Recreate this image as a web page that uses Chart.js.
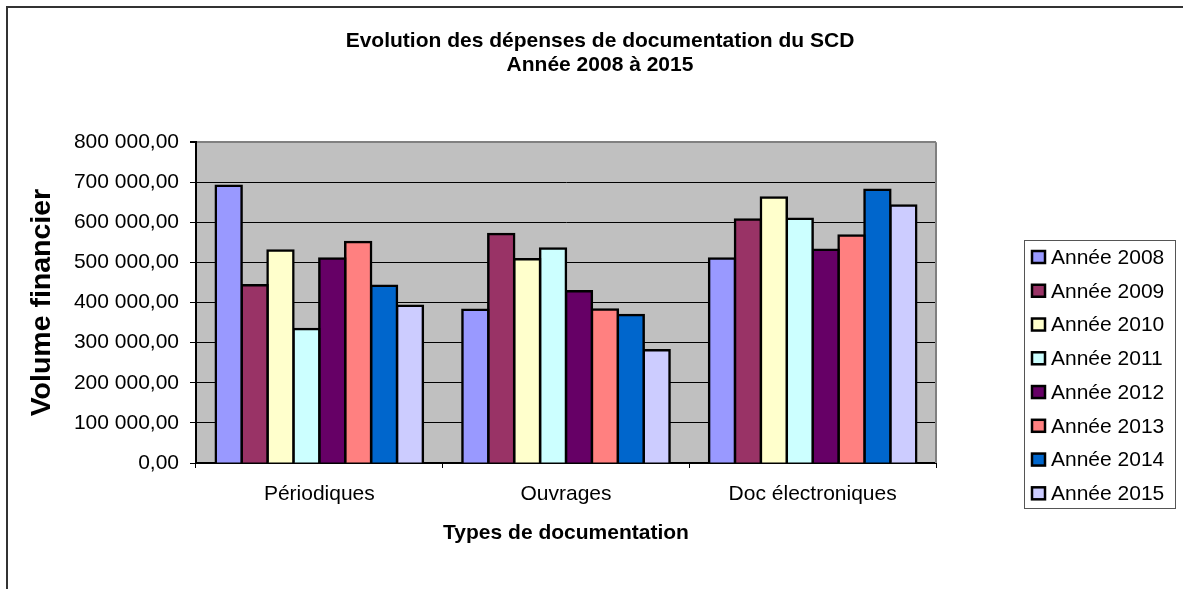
<!DOCTYPE html>
<html>
<head>
<meta charset="utf-8">
<script src="https://cdn.jsdelivr.net/npm/chart.js@4"></script>
<style>
  body { margin: 0; background: #fff; }
  canvas { display: block; }
</style>
</head>
<body>
<canvas id="chart" width="1183" height="589"></canvas>
<script>
// données
const categories = ["Périodiques", "Ouvrages", "Doc électroniques"];
const years = ["Année 2008", "Année 2009", "Année 2010", "Année 2011", "Année 2012", "Année 2013", "Année 2014", "Année 2015"];
const annee2008 = [691000, 382000, 510000];
const annee2009 = [443000, 571000, 607000];
const annee2010 = [530000, 508000, 662000];
const annee2011 = [334000, 535000, 609000];
const annee2012 = [510000, 428000, 532000];
const annee2013 = [551000, 383000, 567000];
const annee2014 = [442000, 369000, 681000];
const annee2015 = [392000, 281000, 642000];
const yMax = 800000;
const yStep = 100000;

const series = [annee2008, annee2009, annee2010, annee2011, annee2012, annee2013, annee2014, annee2015];
const colors = ["#9999FF", "#993366", "#FFFFCC", "#CCFFFF", "#660066", "#FF8080", "#0066CC", "#CCCCFF"];
const FONT = "'Liberation Sans', Arial, sans-serif";

function fmt(v) {
  return String(Math.round(v)).replace(/\B(?=(\d{3})+(?!\d))/g, " ") + ",00";
}

// fond, cadre, zone de traçage
const frame = {
  id: "frame",
  beforeDraw(chart) {
    const {ctx, chartArea: a} = chart;
    ctx.save();
    ctx.fillStyle = "#fff";
    ctx.fillRect(0, 0, chart.width, chart.height);
    ctx.strokeStyle = "#333";
    ctx.lineWidth = 2;
    ctx.strokeRect(7, 7, 2000, 2000);
    ctx.fillStyle = "#C0C0C0";
    ctx.fillRect(a.left, a.top, a.right - a.left, a.bottom - a.top);
    ctx.restore();
  },
  afterDraw(chart) {
    const {ctx, chartArea: a} = chart;
    ctx.save();
    ctx.strokeStyle = "#808080";
    ctx.lineWidth = 2;
    ctx.beginPath();
    ctx.moveTo(a.right, a.top);
    ctx.lineTo(a.right, a.bottom);
    ctx.stroke();
    ctx.restore();
  }
};

// légende encadrée à droite
const boxLegend = {
  id: "boxLegend",
  afterDraw(chart) {
    const ctx = chart.ctx;
    const x0 = 1024, y0 = 240, w = 151, h = 268;
    const first = 257, step = 33.76;
    ctx.save();
    ctx.strokeStyle = "#555";
    ctx.lineWidth = 1;
    ctx.strokeRect(x0 + 0.5, y0 + 0.5, w, h);
    ctx.font = "21px " + FONT;
    ctx.textBaseline = "middle";
    ctx.textAlign = "left";
    chart.data.datasets.forEach((ds, i) => {
      const cy = first + i * step;
      ctx.fillStyle = ds.backgroundColor;
      ctx.fillRect(1032, cy - 6, 13, 12);
      ctx.strokeStyle = "#000";
      ctx.lineWidth = 2.5;
      ctx.strokeRect(1032, cy - 6, 13, 12);
      ctx.fillStyle = "#000";
      ctx.fillText(ds.label, 1051, cy + 1);
    });
    ctx.restore();
  }
};

const chart = new Chart(document.getElementById("chart"), {
  type: "bar",
  data: {
    labels: categories,
    datasets: years.map((y, i) => ({
      label: y,
      data: series[i],
      backgroundColor: colors[i],
      borderColor: "#000",
      borderWidth: 2.5,
      inflateAmount: 1.25,
      categoryPercentage: 0.84,
      barPercentage: 1.0
    }))
  },
  options: {
    responsive: false,
    animation: false,
    layout: { padding: { left: 17, right: 0, top: 0, bottom: 0 } },
    plugins: {
      legend: { display: false },
      tooltip: { enabled: false },
      title: {
        display: true,
        text: ["Evolution des dépenses de documentation du SCD", "Année 2008 à 2015"],
        color: "#000",
        font: { family: FONT, size: 21, weight: "bold", lineHeight: 1.17 },
        padding: { top: 28.5, bottom: 64.5 }
      }
    },
    scales: {
      x: {
        offset: true,
        grid: { display: true, drawOnChartArea: false, drawTicks: true, tickLength: 5, color: "#000", offset: true },
        border: { display: true, color: "#000", width: 2 },
        ticks: { color: "#000", font: { family: FONT, size: 21 }, padding: 14, maxRotation: 0 },
        title: {
          display: true,
          text: "Types de documentation",
          color: "#000",
          font: { family: FONT, size: 21, weight: "bold", lineHeight: 1.2 },
          padding: { top: 0, bottom: 43 }
        },
        afterFit(s) { s.height = 126; }
      },
      y: {
        min: 0,
        max: yMax,
        grid: {
          color: c => (c.tick && c.tick.value === yMax ? "#808080" : "#000"),
          lineWidth: c => (c.tick && c.tick.value === yMax ? 2 : 1),
          tickColor: "#000",
          tickLength: 6
        },
        border: { display: true, color: "#000", width: 2 },
        ticks: {
          stepSize: yStep,
          color: "#000",
          font: { family: FONT, size: 21 },
          padding: 11,
          callback: v => fmt(v)
        },
        title: {
          display: true,
          text: "Volume financier",
          color: "#000",
          font: { family: FONT, size: 28.5, weight: "bold", lineHeight: 1.2 },
          padding: { top: 8, bottom: 0 }
        },
        afterFit(s) { s.width = 179; }
      },
      espace: {
        type: "linear",
        position: "right",
        display: true,
        grid: { display: false },
        border: { display: false },
        ticks: { display: false },
        afterFit(s) { s.width = 247; }
      }
    }
  },
  plugins: [frame, boxLegend]
});
</script>
</body>
</html>
